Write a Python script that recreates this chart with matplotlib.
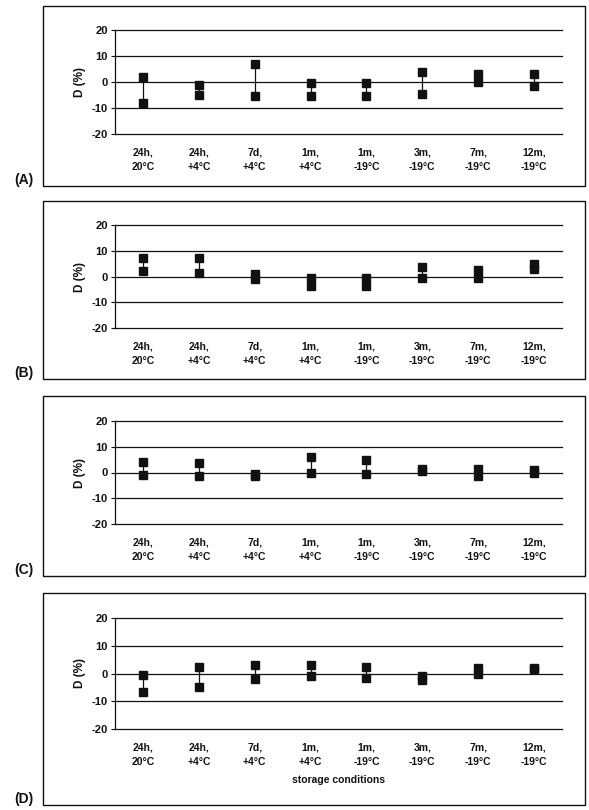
import matplotlib.pyplot as plt
from matplotlib.patches import Rectangle

plt.rcParams["font.family"] = ["Liberation Sans", "DejaVu Sans"]
plt.rcParams["font.weight"] = "bold"

CONDITIONS = ["24h,\n20°C", "24h,\n+4°C", "7d,\n+4°C", "1m,\n+4°C",
              "1m,\n-19°C", "3m,\n-19°C", "7m,\n-19°C", "12m,\n-19°C"]
PANEL_LABELS = ["(A)", "(B)", "(C)", "(D)"]
Y_TICKS = [-20, -10, 0, 10, 20]

# upper / lower D (%) for each storage condition
A_HIGH = [2, -1, 7, -0.5, -0.5, 4, 3, 3]
A_LOW = [-8, -5, -5.5, -5.5, -5.5, -4.5, 0, -1.5]
B_HIGH = [7, 7, 1, -0.5, -0.5, 3.5, 2.5, 5]
B_LOW = [2, 1.5, -1, -3.5, -3.5, -0.5, -0.5, 3]
C_HIGH = [4, 3.5, -0.5, 6, 5, 1.5, 1.5, 1]
C_LOW = [-1, -1.5, -1.5, 0, -0.5, 0.5, -1.5, 0]
D_HIGH = [-0.5, 2.5, 3, 3, 2.5, -1, 2, 2]
D_LOW = [-6.5, -5, -2, -1, -1.5, -2.5, 0, 1.5]

HIGHS = [A_HIGH, B_HIGH, C_HIGH, D_HIGH]
LOWS = [A_LOW, B_LOW, C_LOW, D_LOW]

W, H = 589, 810
# pixel layout: (box top, box bottom, axes top, axes bottom)
LAYOUT = [(6, 186, 30, 134), (201, 379, 225, 328),
          (396, 576, 421, 524), (593, 805, 618, 729)]
AX_LEFT, AX_RIGHT = 115, 562
BOX_LEFT, BOX_RIGHT = 43, 585
INK = "#111111"


def main():
    fig = plt.figure(figsize=(W / 100, H / 100), dpi=100)

    for i, (box_top, box_bot, ax_top, ax_bot) in enumerate(LAYOUT):
        fig.patches.append(Rectangle(
            (BOX_LEFT / W, 1 - box_bot / H),
            (BOX_RIGHT - BOX_LEFT) / W, (box_bot - box_top) / H,
            transform=fig.transFigure, fill=False, edgecolor=INK, linewidth=1.0))
        fig.text(14 / W, 1 - (box_bot - 6) / H, PANEL_LABELS[i],
                 fontsize=10, fontweight="bold", va="center", ha="left", color=INK)

        ax = fig.add_axes([AX_LEFT / W, 1 - ax_bot / H,
                           (AX_RIGHT - AX_LEFT) / W, (ax_bot - ax_top) / H])
        x = list(range(len(CONDITIONS)))
        ax.vlines(x, LOWS[i], HIGHS[i], color=INK, linewidth=0.9, zorder=3)
        ax.plot(x, HIGHS[i], "s", color=INK, markersize=5.5, zorder=4)
        ax.plot(x, LOWS[i], "s", color=INK, markersize=5.5, zorder=4)

        ax.set_xlim(-0.5, len(CONDITIONS) - 0.5)
        ax.set_ylim(-20, 20)
        ax.set_yticks(Y_TICKS)
        ax.set_yticklabels([str(t) for t in Y_TICKS], fontsize=8, fontweight="bold")
        ax.set_xticks(x)
        ax.set_xticklabels(CONDITIONS, fontsize=7.5, fontweight="bold",
                           linespacing=1.5)
        ax.tick_params(axis="x", length=0, pad=10, colors=INK)
        ax.tick_params(axis="y", length=3, width=0.8, pad=2, colors=INK)
        for t in Y_TICKS:
            ax.axhline(t, color=INK, linewidth=0.9, zorder=1, clip_on=False)
        for side in ["top", "right", "bottom"]:
            ax.spines[side].set_visible(False)
        ax.spines["left"].set_color(INK)
        ax.spines["left"].set_linewidth(0.9)
        ax.set_ylabel("D (%)", fontsize=8.5, fontweight="bold", labelpad=4, color=INK)

        if i == 3:
            ax.set_xlabel("storage conditions", fontsize=7.5, fontweight="bold",
                          labelpad=6, color=INK)

    fig.savefig("out.png", dpi=100)


if __name__ == "__main__":
    main()
